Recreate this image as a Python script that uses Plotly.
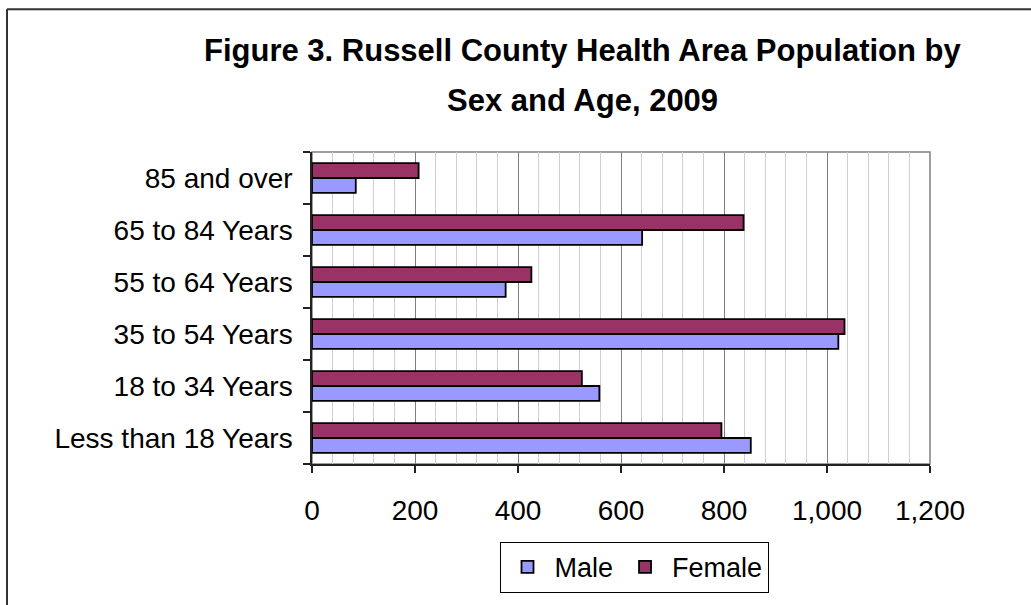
import plotly.graph_objects as go

categories = ["Less than 18 Years", "18 to 34 Years", "35 to 54 Years",
              "55 to 64 Years", "65 to 84 Years", "85 and over"]
male = [852, 558, 1022, 376, 641, 85]
female = [795, 524, 1034, 426, 838, 207]
x_ticks = [0, 200, 400, 600, 800, 1000, 1200]
x_tick_labels = ["0", "200", "400", "600", "800", "1,000", "1,200"]
title_lines = ["Figure 3. Russell County Health Area Population by",
               "Sex and Age, 2009"]

W, H = 1031, 605
L, R, T, B = 312, 930, 152, 469


def px_x(p):
    return (p - L) / (R - L)


def px_y(p):
    return (B - p) / (B - T)


FONT = "Arial, 'Liberation Sans', sans-serif"

fig = go.Figure()
fig.add_trace(go.Bar(y=categories, x=male, orientation="h", name="Male",
                     marker=dict(color="#9999FF", line=dict(color="#000000", width=1.8))))
fig.add_trace(go.Bar(y=categories, x=female, orientation="h", name="Female",
                     marker=dict(color="#993366", line=dict(color="#000000", width=1.8))))

fig.update_layout(
    width=W, height=H,
    margin=dict(l=L, r=W - R, t=T, b=H - B, pad=0),
    paper_bgcolor="white", plot_bgcolor="white",
    barmode="group", bargap=0.43, bargroupgap=0,
    font=dict(family=FONT, size=28, color="black"),
    showlegend=True,
    legend=dict(orientation="h", x=px_x(634), y=px_y(574), xanchor="center", yanchor="middle",
                bordercolor="black", borderwidth=1, bgcolor="white",
                font=dict(family=FONT, size=27, color="black"),
                itemwidth=44, tracegroupgap=0),
)

fig.update_xaxes(
    range=[0, 1200], tickvals=x_ticks, ticktext=x_tick_labels,
    showgrid=True, gridcolor="#808080", gridwidth=1,
    minor=dict(dtick=40, showgrid=True, gridcolor="#CFCFCF", gridwidth=1, ticks=""),
    showline=True, linecolor="#222222", linewidth=1.5,
    ticks="outside", ticklen=7, tickcolor="#222222", tickwidth=1.5,
    zeroline=False, ticklabelstandoff=14,
    tickfont=dict(family=FONT, size=28, color="black"),
)
fig.update_yaxes(
    categoryorder="array", categoryarray=categories,
    showgrid=False, showline=True, linecolor="#222222", linewidth=1.5,
    ticks="outside", ticklen=7, tickcolor="#222222", tickwidth=1.5, tickson="boundaries",
    ticklabelstandoff=12,
    tickfont=dict(family=FONT, size=28, color="black"),
)

shapes = [
    dict(type="rect", xref="paper", yref="paper", x0=0, x1=1, y0=0, y1=1,
         line=dict(color="#808080", width=1.5), layer="below"),
    dict(type="line", xref="paper", yref="paper", x0=px_x(7), x1=px_x(1040), y0=px_y(7), y1=px_y(7),
         line=dict(color="#333333", width=2)),
    dict(type="line", xref="paper", yref="paper", x0=px_x(7), x1=px_x(7), y0=px_y(7), y1=px_y(615),
         line=dict(color="#333333", width=2)),
]
fig.update_layout(shapes=shapes)

annots = []
for text, yc in zip(title_lines, [49, 100]):
    annots.append(dict(text="<b>" + text + "</b>", xref="paper", yref="paper",
                       x=px_x(582.5), y=px_y(yc), xanchor="center", yanchor="middle",
                       showarrow=False, font=dict(family=FONT, size=31, color="black")))
fig.update_layout(annotations=annots)

fig.write_html("out.html", config={"displayModeBar": False},
               post_script="document.body.style.margin='0px';document.body.style.overflow='hidden';")
